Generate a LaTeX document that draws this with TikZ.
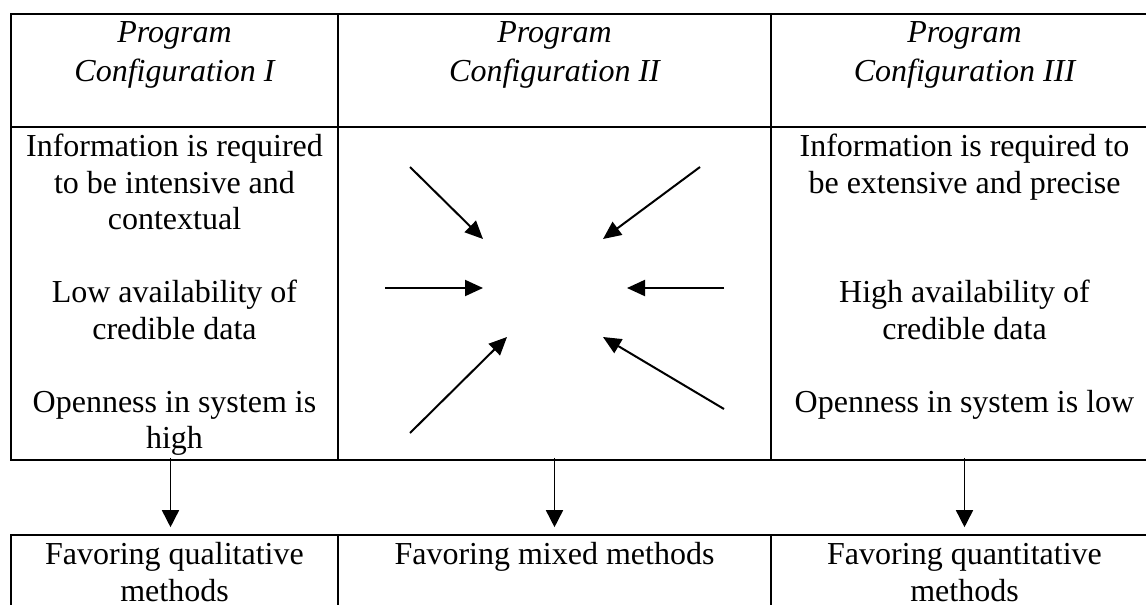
\documentclass[tikz,border=0pt]{standalone}
\usepackage{fontspec}
\setmainfont{Liberation Serif}
\usetikzlibrary{arrows.meta,calc}

\begin{document}
\begin{tikzpicture}[x=0.5pt,y=-0.5pt,
  cell/.style={draw,line width=.8pt,inner sep=0pt},
  wI/.style={minimum width=163.5pt},
  wII/.style={minimum width=216.5pt},
  wIII/.style={minimum width=193.5pt},
  hhead/.style={minimum height=56.5pt},
  hbody/.style={minimum height=166.5pt},
  hres/.style={minimum height=55pt},
  head/.style={anchor=north,align=center,inner sep=0pt,
               font=\itshape\fontsize{16}{19.5}\selectfont},
  txt/.style={anchor=north,align=center,inner sep=0pt,
              font=\fontsize{16}{18.25}\selectfont},
  down/.style={-{Triangle[length=8.5pt,width=8.5pt]},line width=.8pt,
               shorten <=-1.5pt,shorten >=3.5pt},
  conv/.style={-{Triangle[length=9pt,width=8pt]},line width=1pt}]
  \useasboundingbox (0,0) rectangle (1146,605);
  \clip (0,0) rectangle (1146,605);
  % table cells
  \node[cell,wI,hhead]     (h1) at (174.5,70.5) {};
  \node[cell,wII,hhead]    (h2) at (554.5,70.5) {};
  \node[cell,wIII,hhead]   (h3) at (964.5,70.5) {};
  \node[cell,wI,hbody]     (b1) at (174.5,293.5) {};
  \node[cell,wII,hbody]    (b2) at (554.5,293.5) {};
  \node[cell,wIII,hbody]   (b3) at (964.5,293.5) {};
  \node[cell,wI,hres]      (r1) at (174.5,590) {};
  \node[cell,wII,hres]     (r2) at (554.5,590) {};
  \node[cell,wIII,hres]    (r3) at (964.5,590) {};
  % headings
  \node[head] (ht1) at ($(h1.north)+(0,1.7)$) {\strut Program\\Configuration I};
  \node[head] (ht2) at ($(h2.north)+(0,1.7)$) {\strut Program\\Configuration II};
  \node[head] (ht3) at ($(h3.north)+(0,1.7)$) {\strut Program\\Configuration III};
  % conditions
  \node[txt] (bt1) at ($(b1.north)+(0,4.5)$)
    {\strut Information is required\\to be intensive and\\contextual\\[18.25pt]
     Low availability of\\credible data\\[18.25pt]
     Openness in system is\\high};
  \node[txt] (bt3) at ($(b3.north)+(0,4.5)$)
    {\strut Information is required to\\be extensive and precise\\[36.5pt]
     High availability of\\credible data\\[18.25pt]
     Openness in system is low};
  % results
  \node[txt] (rt1) at ($(r1.north)+(0,4.5)$) {\strut Favoring qualitative\\methods};
  \node[txt] (rt2) at ($(r2.north)+(0,4.5)$) {\strut Favoring mixed methods};
  \node[txt] (rt3) at ($(r3.north)+(0,4.5)$) {\strut Favoring quantitative\\methods};
  % arrows into the middle
  \foreach \n/\s/\e in {tl/{410,167}/{483,239},tr/{700,167}/{603,239},
                        ml/{385,288}/{483,288},mr/{724,288}/{627,288},
                        bl/{410,433}/{507,337},br/{724,409}/{603,337}}{
    \coordinate (\n s) at (\s);
    \coordinate (\n e) at (\e);
    \draw[conv] (\n s) -- (\n e);
  }
  % arrows down to the results
  \draw[down] ([xshift=-2pt]b1.south) -- ([xshift=-2pt]r1.north);
  \draw[down] (b2.south) -- (r2.north);
  \draw[down] (b3.south) -- (r3.north);
\end{tikzpicture}
\end{document}
